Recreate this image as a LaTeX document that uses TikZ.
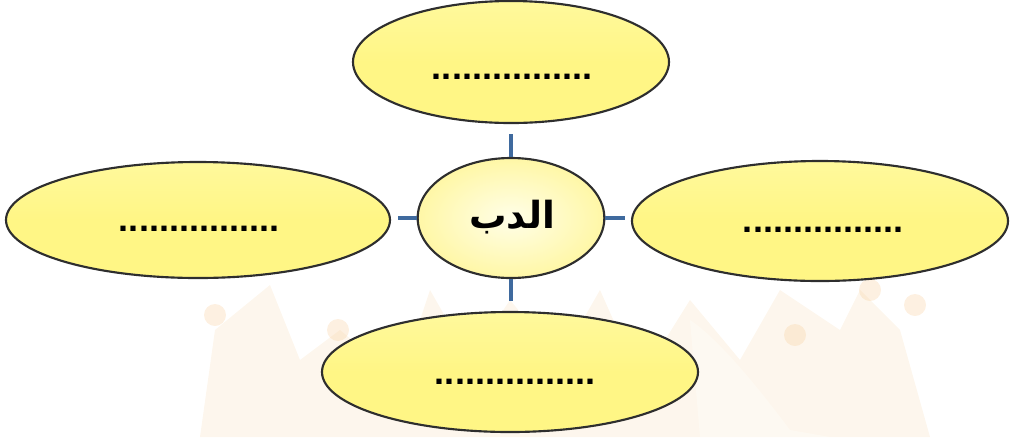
\documentclass[tikz,border=0pt]{standalone}
\usepackage{fontspec}
\setmainfont{Liberation Sans}
\newfontfamily\arabicfont[Script=Arabic]{DejaVu Sans}
\TeXXeTstate=1
\usetikzlibrary{shapes.geometric}
\definecolor{conn}{HTML}{3F6A9E}
\definecolor{edge}{HTML}{2E2E2E}
\definecolor{yel}{HTML}{FFF685}
\definecolor{yelin}{HTML}{FFF99C}
\definecolor{cin}{HTML}{FFFEE8}
\definecolor{cout}{HTML}{FFF7A6}
\definecolor{wm}{HTML}{F8E2C2}
\begin{document}
\begin{tikzpicture}[x=0.75pt,y=-0.75pt,
  oval/.style={ellipse,draw=edge,line width=1.6pt,inner sep=0pt,top color=yelin,bottom color=yel,middle color=yel},
  hub/.style={ellipse,draw=edge,line width=1.6pt,inner sep=0pt,shading=radial,inner color=cin,outer color=cout},
  dots/.style={font=\bfseries\fontsize{27}{30}\selectfont,anchor=base,inner sep=0pt},
  link/.style={draw=conn,line width=3pt}]
\useasboundingbox (0,0) rectangle (1010,437);
% faint watermark (crown)
\begin{scope}[opacity=0.3]
\fill[wm] (200,437) -- (215,330) -- (270,285) -- (300,360) -- (340,330) -- (400,380) -- (430,290) -- (470,360) -- (510,300) -- (560,360) -- (600,290) -- (640,380) -- (690,300) -- (740,360) -- (780,290) -- (840,330) -- (860,290) -- (900,330) -- (930,437) -- cycle;
\fill[white] (690,320) .. controls (720,340) and (760,390) .. (790,430) -- (830,437) -- (700,437) -- cycle;
\foreach \p in {(215,315),(338,330),(795,335),(915,305),(870,290)}
  \fill[wm!80!orange] \p circle (11);
\end{scope}
% ellipses
\node[oval,minimum width=237pt,minimum height=91.5pt] (top) at (511,62) {};
\node[oval,minimum width=288pt,minimum height=87pt] (left) at (198,220) {};
\node[oval,minimum width=282pt,minimum height=90pt] (right) at (820,221) {};
\node[oval,minimum width=282pt,minimum height=90pt] (bottom) at (510,372) {};
\node[hub,minimum width=140pt,minimum height=90pt] (hub) at (511,218) {};
% connectors
\draw[link,shorten >=7.5pt] (hub.north) -- (hub.north |- top.south);
\draw[link,shorten >=5pt] (hub.west) -- (hub.west -| left.east);
\draw[link,shorten >=4.5pt] (hub.east) -- (hub.east -| right.west);
\draw[link,shorten >=7.5pt] (hub.south) -- (hub.south |- bottom.north);
% texts
\node[dots] (ttop) at (512,79) {................};
\node[dots] (tleft) at (199,231) {................};
\node[dots] (tright) at (823,232) {................};
\node[dots] (tbottom) at (515,384) {................};
\node[font=\arabicfont\bfseries\fontsize{28}{32}\selectfont,anchor=base,inner sep=0pt] (hubtext) at (512,228) {\beginR الدب\endR};
\end{tikzpicture}
\end{document}
